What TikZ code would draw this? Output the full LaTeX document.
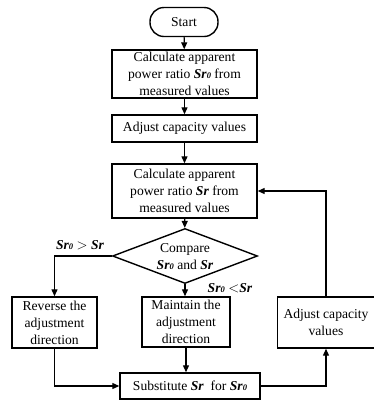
\documentclass[tikz,border=0pt]{standalone}
\usepackage{fontspec}
\setmainfont{Liberation Serif}
\usetikzlibrary{arrows.meta,shapes.geometric}
\newcommand{\Sr}{\textbf{\textit{Sr}}}
\newcommand{\Srz}{\textbf{\textit{Sr}}{\fontsize{8.5}{8.5}\selectfont\textbf{\textit{0}}}}
\begin{document}
\begin{tikzpicture}[x=1pt,y=-1pt,
  every node/.style={font=\fontsize{13.6}{17}\selectfont},
  box/.style={draw,line width=1.4pt,align=center,inner sep=0pt},
  conn/.style={line width=1.2pt,-{Triangle[length=7pt,width=6pt]}}]
\useasboundingbox (0,0) rectangle (374,400);
\node[box,rounded corners=14pt,minimum width=68pt,minimum height=29pt] (start) at (184,22) {Start};
\node[box,minimum width=145pt,minimum height=48pt] (c1) at (184.5,74) {Calculate apparent\\power ratio \Srz{} from\\measured values};
\node[box,minimum width=145pt,minimum height=27pt] (adj1) at (184.5,128.5) {Adjust capacity values};
\node[box,minimum width=145pt,minimum height=54pt] (c2) at (184.5,191) {Calculate apparent\\power ratio \Sr{} from\\measured values};
\node[draw,line width=1.4pt,diamond,inner sep=0pt,minimum width=145pt,minimum height=55pt] (dia) at (185,256) {};
\node[align=center,inner sep=0pt] (diatext) at (185,257) {Compare\\\Srz{} and \Sr};
\node[box,minimum width=85pt,minimum height=51pt] (rev) at (54.5,322.5) {Reverse the\\adjustment\\direction};
\node[box,minimum width=88pt,minimum height=50pt] (maint) at (186,322) {Maintain the\\adjustment\\direction};
\node[box,minimum width=97pt,minimum height=51pt] (adj2) at (326,322.5) {Adjust capacity\\values};
\node[box,minimum width=140pt,minimum height=26pt] (sub) at (190,386) {Substitute \Sr{}\ \ for \Srz};
\node (l1) at (80,245) {\Srz{} $>$ \Sr};
\node (l2) at (230,288) {\Srz{} $<$\Sr};
\draw[conn] (start) -- (c1);
\draw[conn] (c1) -- (adj1);
\draw[conn] (adj1) -- (c2);
\draw[conn] (c2) -- (dia);
\draw[conn] (dia.west) -| (rev.north);
\draw[conn] (dia.south) -- (dia.south |- maint.north);
\draw[conn] (rev.south) |- (sub.west);
\draw[conn] (maint.south) -- (maint.south |- sub.north);
\draw[conn] (sub.east) -| (adj2.south);
\draw[conn] (adj2.north) |- (c2.east);
\end{tikzpicture}
\end{document}
